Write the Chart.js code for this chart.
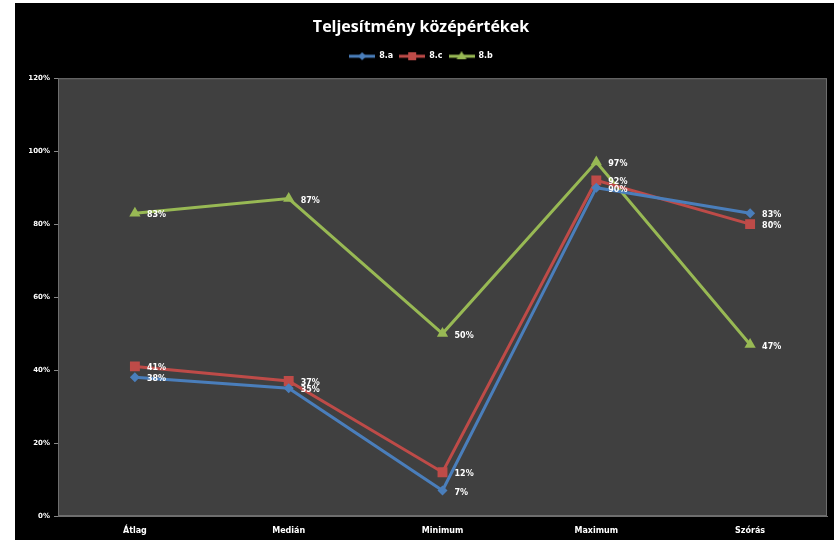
<!DOCTYPE html>
<html>
<head>
<meta charset="utf-8">
<script src="https://cdn.jsdelivr.net/npm/chart.js@4/dist/chart.umd.min.js"></script>
<style>
  html, body { margin:0; padding:0; background:#fff; }
  #wrap { position:absolute; left:15px; top:3px; width:819px; height:537px; background:#000; }
  canvas { display:block; }
</style>
</head>
<body>
<div id="wrap"><canvas id="c" width="819" height="537"></canvas></div>
<script>
const categories = ['Átlag', 'Medián', 'Minimum', 'Maximum', 'Szórás'];
const series8a = [38, 35, 7, 90, 83];
const series8c = [41, 37, 12, 92, 80];
const series8b = [83, 87, 50, 97, 47];
const seriesNames = ['8.a', '8.c', '8.b'];
const yTicks = [0, 20, 40, 60, 80, 100, 120];

const colors = ['#4a7ebb', '#be4b48', '#98b954'];
const styles = ['rectRot', 'rect', 'triangle'];
const radii = [5, 7, 6.5];

function legendIcon(color, style) {
  const cv = document.createElement('canvas');
  cv.width = 26; cv.height = 10;
  const ctx = cv.getContext('2d');
  ctx.strokeStyle = color; ctx.lineWidth = 3;
  ctx.beginPath(); ctx.moveTo(0, 5); ctx.lineTo(26, 5); ctx.stroke();
  ctx.fillStyle = color;
  if (style === 'rect') { ctx.fillRect(9, 1, 8, 8); }
  else if (style === 'rectRot') { ctx.beginPath(); ctx.moveTo(13,1); ctx.lineTo(17,5); ctx.lineTo(13,9); ctx.lineTo(9,5); ctx.closePath(); ctx.fill(); }
  else { ctx.beginPath(); ctx.moveTo(13,0); ctx.lineTo(18,8); ctx.lineTo(8,8); ctx.closePath(); ctx.fill(); }
  return cv;
}

const dataSets = [series8a, series8c, series8b].map((d, i) => ({
  label: seriesNames[i],
  data: d,
  borderColor: colors[i],
  backgroundColor: colors[i],
  borderWidth: 3,
  pointStyle: styles[i],
  pointRadius: radii[i],
  pointHoverRadius: radii[i],
  pointBorderWidth: 0,
  tension: 0
}));

const bgPlugin = {
  id: 'bg',
  beforeInit(chart) {
    const lg = chart.legend;
    if (lg) {
      const orig = lg.fit;
      lg.fit = function () { orig.call(this); this.height += 8; };
    }
  },
  beforeDraw(chart) {
    const {ctx, chartArea: a} = chart;
    ctx.save();
    ctx.fillStyle = '#404040';
    ctx.fillRect(a.left, a.top, a.right - a.left, a.bottom - a.top);
    ctx.strokeStyle = '#6e6e6e';
    ctx.lineWidth = 1;
    ctx.strokeRect(a.left + 0.5, a.top + 0.5, a.right - a.left - 1, a.bottom - a.top - 1);
    ctx.restore();
  }
};

const labelPlugin = {
  id: 'labels',
  afterDatasetsDraw(chart) {
    const ctx = chart.ctx;
    ctx.save();
    ctx.font = 'bold 8px "DejaVu Sans"';
    ctx.fillStyle = '#ffffff';
    ctx.textBaseline = 'middle';
    chart.data.datasets.forEach((ds, i) => {
      chart.getDatasetMeta(i).data.forEach((pt, j) => {
        ctx.fillText(ds.data[j] + '%', pt.x + 12, pt.y + 2);
      });
    });
    ctx.restore();
  }
};

new Chart(document.getElementById('c'), {
  type: 'line',
  data: { labels: categories, datasets: dataSets },
  plugins: [bgPlugin, labelPlugin],
  options: {
    responsive: false,
    animation: false,
    layout: { padding: { left: 0, right: 7, top: 0, bottom: 0 } },
    plugins: {
      title: {
        display: true,
        text: 'Teljesítmény középértékek',
        color: '#ffffff',
        font: { family: 'Open Sans', size: 16, weight: 'bold' },
        padding: { top: 15, bottom: 9 }
      },
      legend: {
        display: true,
        labels: {
          color: '#ffffff',
          font: { family: 'DejaVu Sans', size: 8, weight: 'bold' },
          usePointStyle: true,
          pointStyleWidth: 26,
          boxHeight: 10,
          padding: 6,
          generateLabels(chart) {
            return chart.data.datasets.map((ds, i) => ({
              text: ds.label,
              fillStyle: colors[i],
              strokeStyle: colors[i],
              fontColor: '#ffffff',
              pointStyle: legendIcon(colors[i], styles[i]),
              datasetIndex: i,
              hidden: false,
              lineWidth: 0
            }));
          }
        }
      },
      tooltip: { enabled: false }
    },
    scales: {
      x: {
        offset: true,
        afterFit(scale) { scale.height = 24; },
        grid: { display: false, drawTicks: false },
        border: { color: '#6e6e6e' },
        ticks: { color: '#ffffff', font: { family: 'DejaVu Sans', size: 8, weight: 'bold' }, padding: 10, maxRotation: 0 }
      },
      y: {
        min: 0, max: 120,
        afterBuildTicks(scale) { scale.ticks = yTicks.map(v => ({ value: v })); },
        afterFit(scale) { scale.width = 43; },
        grid: { drawOnChartArea: false, drawTicks: true, tickLength: 4, color: '#888888' },
        border: { color: '#6e6e6e' },
        ticks: {
          color: '#ffffff',
          font: { family: 'DejaVu Sans', size: 7, weight: 'bold' },
          padding: 4,
          callback: v => v + '%'
        }
      }
    }
  }
});
</script>
</body>
</html>
